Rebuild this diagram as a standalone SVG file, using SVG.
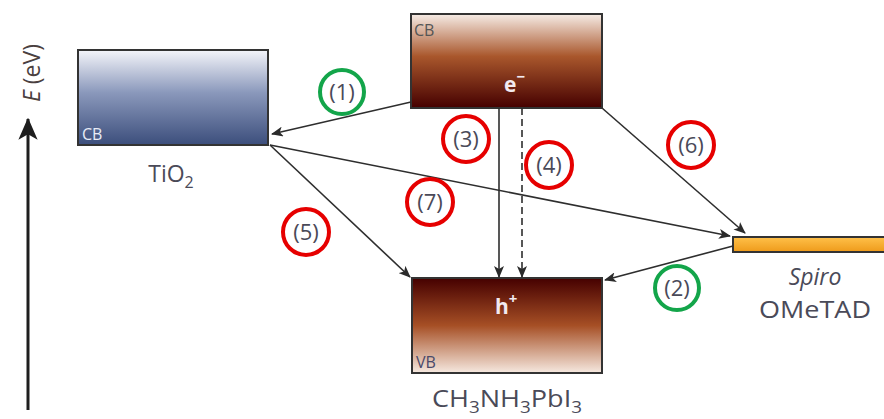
<svg xmlns="http://www.w3.org/2000/svg" width="884" height="419" viewBox="0 0 884 419">
<defs>
<linearGradient id="gTi" x1="0" y1="0" x2="0" y2="1">
<stop offset="0" stop-color="#f4f5fa"/><stop offset="0.45" stop-color="#8a98bb"/><stop offset="1" stop-color="#3c4e7c"/>
</linearGradient>
<linearGradient id="gCB" x1="0" y1="0" x2="0" y2="1">
<stop offset="0" stop-color="#f6ece6"/><stop offset="0.45" stop-color="#a9572c"/><stop offset="1" stop-color="#450000"/>
</linearGradient>
<linearGradient id="gVB" x1="0" y1="0" x2="0" y2="1">
<stop offset="0" stop-color="#450000"/><stop offset="0.5" stop-color="#a64f25"/><stop offset="1" stop-color="#f6e9e0"/>
</linearGradient>
<linearGradient id="gSp" x1="0" y1="0" x2="0" y2="1">
<stop offset="0" stop-color="#ffc14a"/><stop offset="1" stop-color="#ee9a1a"/>
</linearGradient>
<marker id="ah" viewBox="0 0 12 10" refX="11" refY="5" markerWidth="12" markerHeight="10" markerUnits="userSpaceOnUse" orient="auto">
<path d="M0,0 L12,5 L0,10 L3,5 Z" fill="#2b2b2b"/>
</marker>
<marker id="axh" viewBox="0 0 16 14" refX="15" refY="7" markerWidth="22" markerHeight="20" markerUnits="userSpaceOnUse" orient="auto">
<path d="M0,0 L16,7 L0,14 L4,7 Z" fill="#1e1e1e"/>
</marker>
</defs>
<style>
text{font-family:"Open Sans","Noto Sans","Liberation Sans",sans-serif;fill:#4a4a58}
.box{stroke:#333;stroke-width:2}
.ln{stroke:#2e2e2e;stroke-width:1.6;fill:none}
.red{fill:none;stroke:#e60000;stroke-width:4}
.grn{fill:none;stroke:#13a54a;stroke-width:4}
.num{font-size:22px;text-anchor:middle}
.lbl{font-size:23px;text-anchor:middle}
.cb{font-size:16px}
</style>
<rect width="884" height="419" fill="#ffffff"/>
<g id="axis">
<line x1="28" y1="410" x2="28" y2="119" stroke="#1e1e1e" stroke-width="3" marker-end="url(#axh)"/>
<text transform="translate(40,73) rotate(-90)" style="font-size:23px;text-anchor:middle;fill:#4a4040"><tspan font-style="italic">E</tspan> (eV)</text>
</g>
<g id="tio2">
<rect class="box" x="78" y="50" width="190" height="95" fill="url(#gTi)"/>
<text x="82" y="140" class="cb" style="fill:#e8ecf6">CB</text>
<text x="171" y="182" class="lbl">TiO<tspan font-size="16" dy="6">2</tspan></text>
</g>
<g id="perov-cb">
<rect class="box" x="411" y="14" width="191" height="94" fill="url(#gCB)"/>
<text x="414" y="36" class="cb" style="fill:#555">CB</text>
<text x="504" y="92" style="font-size:21px;fill:#f2eaf0;font-weight:bold">e<tspan dy="-10" font-size="15">−</tspan></text>
</g>
<g id="perov-vb">
<rect class="box" x="412" y="278" width="190" height="95" fill="url(#gVB)"/>
<text x="495" y="314" style="font-size:21px;fill:#f2eaf0;font-weight:bold">h<tspan dy="-10" font-size="15">+</tspan></text>
<text x="416" y="368" class="cb" style="fill:#4a4a6a">VB</text>
<text x="507" y="407" class="lbl" textLength="150" lengthAdjust="spacingAndGlyphs">CH<tspan font-size="16" dy="6">3</tspan><tspan dy="-6">NH</tspan><tspan font-size="16" dy="6">3</tspan><tspan dy="-6">PbI</tspan><tspan font-size="16" dy="6">3</tspan></text>
</g>
<g id="spiro">
<rect x="733" y="237" width="160" height="15" fill="url(#gSp)" stroke="#333" stroke-width="2"/>
<text x="815" y="285" class="lbl" font-style="italic">Spiro</text>
<text x="815" y="318" class="lbl" textLength="112" lengthAdjust="spacingAndGlyphs">OMeTAD</text>
</g>
<g id="connectors">
<line class="ln" x1="411" y1="102" x2="272" y2="134" marker-end="url(#ah)"/>
<line class="ln" x1="270" y1="145" x2="730" y2="236" marker-end="url(#ah)"/>
<line class="ln" x1="270" y1="145" x2="410" y2="277" marker-end="url(#ah)"/>
<line class="ln" x1="499" y1="108" x2="499" y2="277" marker-end="url(#ah)"/>
<line class="ln" x1="522" y1="108" x2="522" y2="277" stroke-dasharray="7,4" marker-end="url(#ah)"/>
<line class="ln" x1="602" y1="108" x2="745" y2="233" marker-end="url(#ah)"/>
<line class="ln" x1="733" y1="246" x2="605" y2="280" marker-end="url(#ah)"/>
</g>
<g id="label-1"><circle class="grn" cx="342" cy="92" r="22"/><text class="num" x="342" y="100">(1)</text></g>
<g id="label-2"><circle class="grn" cx="677" cy="288" r="22"/><text class="num" x="677" y="296">(2)</text></g>
<g id="label-3"><circle class="red" cx="466" cy="139" r="23"/><text class="num" x="466" y="147">(3)</text></g>
<g id="label-4"><circle class="red" cx="549" cy="165" r="23"/><text class="num" x="549" y="173">(4)</text></g>
<g id="label-5"><circle class="red" cx="306" cy="232" r="23"/><text class="num" x="306" y="240">(5)</text></g>
<g id="label-6"><circle class="red" cx="691" cy="145" r="23"/><text class="num" x="691" y="153">(6)</text></g>
<g id="label-7"><circle class="red" cx="430" cy="202" r="23"/><text class="num" x="430" y="210">(7)</text></g>
</svg>
